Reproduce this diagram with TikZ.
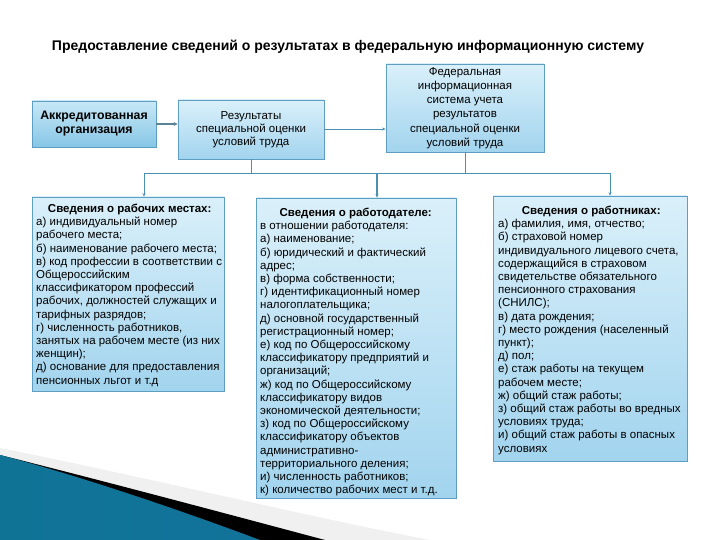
\documentclass[tikz,border=0pt]{standalone}
\usepackage{fontspec}
\setmainfont{Liberation Sans}
\usetikzlibrary{arrows.meta}
\definecolor{bordc}{HTML}{5E9EC2}
\definecolor{boxtop}{HTML}{DAF0FA}
\definecolor{boxbot}{HTML}{A2D4EE}
\definecolor{atop}{HTML}{C8E8F6}
\definecolor{abot}{HTML}{86C6E6}
\definecolor{conn}{HTML}{4A90B0}
\definecolor{arrAB}{HTML}{5A8396}
\definecolor{tealA}{HTML}{0F7396}
\definecolor{tealB}{HTML}{5BBDE0}
\definecolor{tealC}{HTML}{12739A}
\begin{document}
\begin{tikzpicture}[x=1pt,y=-1pt,
  topbox/.style={draw=bordc, line width=0.7pt, top color=boxtop, bottom color=boxbot, inner sep=0pt, align=center},
  abox/.style={draw=bordc, line width=0.7pt, top color=atop, bottom color=abot, inner sep=0pt, align=center},
  infobox/.style={draw=bordc, line width=0.7pt, top color=boxtop, bottom color=boxbot, inner sep=0pt},
  infotext/.style={anchor=north west, inner sep=0pt, font=\fontsize{11.5}{13.2}\selectfont},
  link/.style={draw=conn, line width=0.8pt},
  linkarrow/.style={link, -{Stealth[length=3.5pt,width=3pt]}}
]
\useasboundingbox (0,0) rectangle (720,540);

% decoration bottom-left
\fill[gray!12] (0,448) .. controls (150,478) and (300,515) .. (430,540) -- (0,540) -- cycle;
\fill[black] (0,455) .. controls (100,480) and (220,512) .. (325,540) -- (0,540) -- cycle;
\shade[left color=tealA, middle color=tealB, right color=tealC] (0,455) .. controls (80,476) and (180,510) .. (260,540) -- (0,540) -- cycle;

% title
\node[font=\fontsize{14}{16}\selectfont\bfseries] (title) at (348,47) {Предоставление сведений о результатах в федеральную информационную систему};

% top boxes
\node[abox, minimum width=124pt, minimum height=46pt, font=\fontsize{12.3}{14}\selectfont\bfseries] (A) at (94,124) {Аккредитованная\\организация};
\node[topbox, minimum width=146pt, minimum height=59pt, font=\fontsize{11.5}{13.2}\selectfont] (B) at (251,129.5) {Результаты\\специальной оценки\\условий труда};
\node[topbox, minimum width=158pt, minimum height=88pt, font=\fontsize{11.5}{14.2}\selectfont] (C) at (465,108) {Федеральная\\информационная\\система учета\\результатов\\специальной оценки\\условий труда};

% info boxes
\node[infobox, minimum width=192pt, minimum height=194pt] (W) at (128,294) {};
\node[infobox, minimum width=200pt, minimum height=300pt] (E) at (356,348) {};
\node[infobox, minimum width=194pt, minimum height=265pt] (P) at (590,328.5) {};

\node[infotext] (Wt) at (36,203) {\begin{tabular}{@{}l@{}}
\makebox[187pt][c]{\textbf{Сведения о рабочих местах:}}\\
а) индивидуальный номер\\
рабочего места;\\
б) наименование рабочего места;\\
в) код профессии в соответствии с\\
Общероссийским\\
классификатором профессий\\
рабочих, должностей служащих и\\
тарифных разрядов;\\
г) численность работников,\\
занятых на рабочем месте (из них\\
женщин);\\
д) основание для предоставления\\
пенсионных льгот и т.д
\end{tabular}};

\node[infotext] (Et) at (260,207) {\begin{tabular}{@{}l@{}}
\makebox[191pt][c]{\textbf{Сведения о работодателе:}}\\
в отношении работодателя:\\
а) наименование;\\
б) юридический и фактический\\
адрес;\\
в) форма собственности;\\
г) идентификационный номер\\
налогоплательщика;\\
д) основной государственный\\
регистрационный номер;\\
е) код по Общероссийскому\\
классификатору предприятий и\\
организаций;\\
ж) код по Общероссийскому\\
классификатору видов\\
экономической деятельности;\\
з) код по Общероссийскому\\
классификатору объектов\\
административно-\\
территориального деления;\\
и) численность работников;\\
к) количество рабочих мест и т.д.
\end{tabular}};

\node[infotext] (Pt) at (498,205) {\begin{tabular}{@{}l@{}}
\makebox[186pt][c]{\textbf{Сведения о работниках:}}\\
а) фамилия, имя, отчество;\\
б) страховой номер\\
индивидуального лицевого счета,\\
содержащийся в страховом\\
свидетельстве обязательного\\
пенсионного страхования\\
(СНИЛС);\\
в) дата рождения;\\
г) место рождения (населенный\\
пункт);\\
д) пол;\\
е) стаж работы на текущем\\
рабочем месте;\\
ж) общий стаж работы;\\
з) общий стаж работы во вредных\\
условиях труда;\\
и) общий стаж работы в опасных\\
условиях
\end{tabular}};

% connectors
\draw[arrAB, line width=1.8pt, -{Stealth[length=4pt,width=4pt]}] (A.east |- 0,124) -- (B.west |- 0,124);
\draw[linkarrow] (B.east |- 0,129) -- (C.west |- 0,129);

\coordinate (jB) at (B.south |- 0,173);
\coordinate (jC) at (C.south |- 0,173);
\coordinate (jW) at (144,173);
\coordinate (jE) at (377,173);
\coordinate (jP) at (610,173);
\draw[link] (B.south) -- (jB);
\draw[link] (C.south) -- (jC);
\draw[link] (jW) -- (jP);
\draw[linkarrow] (jW) -- (jW |- W.north);
\draw[linkarrow, line width=1.3pt] (jE) -- (jE |- E.north);
\draw[linkarrow] (jP) -- (jP |- P.north);
\end{tikzpicture}
\end{document}
